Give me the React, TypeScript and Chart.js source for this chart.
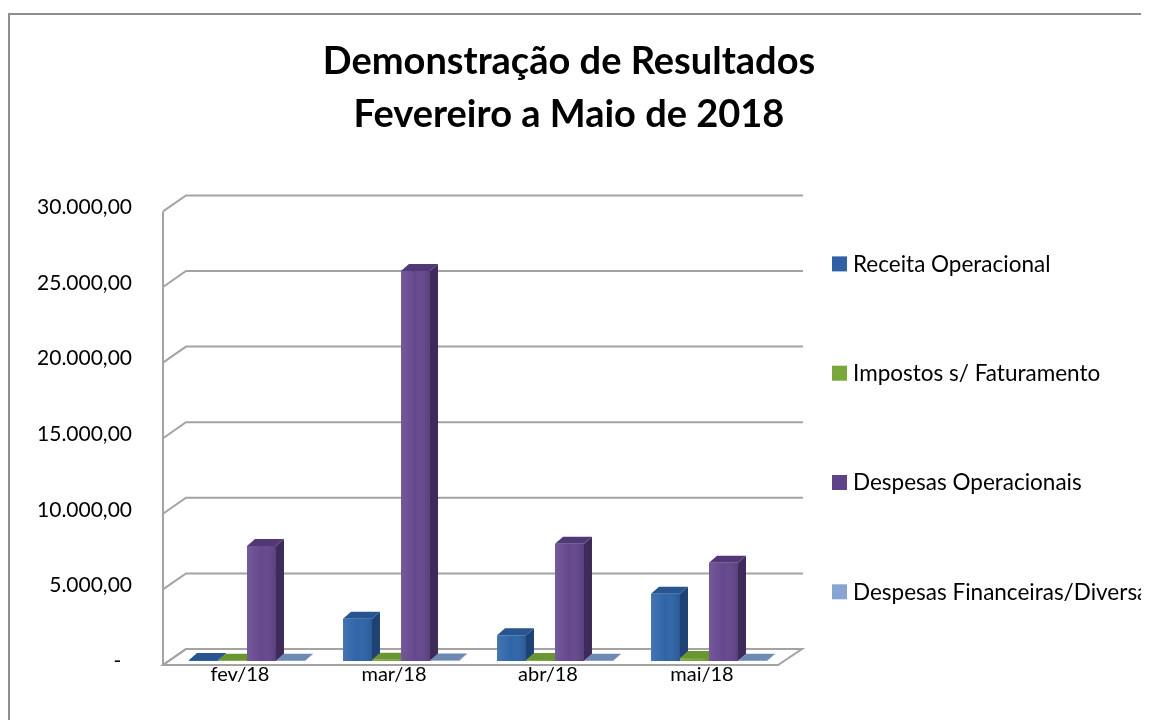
import React, { useEffect, useRef } from 'react';
import { Chart, registerables } from 'chart.js';

Chart.register(...registerables);

const titleLines = ['Demonstração de Resultados', 'Fevereiro a Maio de 2018'];
const categories = ['fev/18', 'mar/18', 'abr/18', 'mai/18'];
const seriesNames = [
  'Receita Operacional',
  'Impostos s/ Faturamento',
  'Despesas Operacionais',
  'Despesas Financeiras/Diversas',
];
const receitaOperacional = [60, 2800, 1700, 4450];
const impostosFaturamento = [20, 80, 70, 200];
const despesasOperacionais = [7600, 25800, 7750, 6500];
const despesasFinanceiras = [20, 25, 20, 20];
const yTickValues = [0, 5000, 10000, 15000, 20000, 25000, 30000];

const frontColors = ['#2f65a9', '#79a53b', '#65478e', '#89a5d3'];
const sideColors = ['#1e4273', '#55752a', '#3e2b59', '#5d7399'];
const topColors = ['#28548f', '#6b9533', '#513877', '#6f89b5'];
const legendColors = ['#2e62a5', '#7aa63b', '#5f4389', '#88a4d2'];

const FONT = 'Lato, "Open Sans", sans-serif';
const DX = 8;
const DY = -7;

function fmtTick(v: number): string {
  if (v === 0) return '-  ';
  const s = Math.round(v).toString().replace(/\B(?=(\d{3})+(?!\d))/g, '.');
  return s + ',00';
}

const threeDPlugin = {
  id: 'threeD',
  beforeDraw(chart: any) {
    const { ctx, width, height } = chart;
    ctx.save();
    ctx.strokeStyle = '#8e8e8e';
    ctx.lineWidth = 2;
    ctx.beginPath();
    ctx.moveTo(1, height + 5);
    ctx.lineTo(1, 6);
    ctx.lineTo(width + 5, 6);
    ctx.stroke();
    ctx.restore();
  },
  beforeDatasetsDraw(chart: any) {
    const { ctx, chartArea, scales } = chart;
    const { left, right, bottom } = chartArea;
    const y = scales.y;
    ctx.save();
    ctx.strokeStyle = '#a3a3a3';
    ctx.lineWidth = 2;
    // floor
    ctx.beginPath();
    ctx.moveTo(left - 7, bottom + 4);
    ctx.lineTo(right - 8, bottom + 4);
    ctx.lineTo(right + 16, bottom - 12);
    ctx.lineTo(left + 16, bottom - 12);
    ctx.closePath();
    ctx.stroke();
    // back wall gridlines and left wall slants
    yTickValues.forEach((v) => {
      const py = y.getPixelForValue(v);
      ctx.beginPath();
      ctx.moveTo(left - 7, py + 4);
      ctx.lineTo(left + 16, py - 12);
      ctx.lineTo(right + 17, py - 12);
      ctx.stroke();
    });
    // front vertical edge of the left wall
    ctx.beginPath();
    ctx.moveTo(left - 7, y.getPixelForValue(yTickValues[yTickValues.length - 1]) + 4);
    ctx.lineTo(left - 7, bottom + 4);
    ctx.stroke();

    // bar side and top faces
    chart.data.datasets.forEach((_ds: any, di: number) => {
      const meta = chart.getDatasetMeta(di);
      meta.data.forEach((el: any) => {
        const w = el.width;
        const l = el.x - w / 2;
        const r = el.x + w / 2;
        const t = Math.min(el.y, el.base);
        const b = Math.max(el.y, el.base);
        ctx.fillStyle = sideColors[di];
        ctx.beginPath();
        ctx.moveTo(r, t);
        ctx.lineTo(r + DX, t + DY);
        ctx.lineTo(r + DX, b + DY);
        ctx.lineTo(r, b);
        ctx.closePath();
        ctx.fill();
        ctx.fillStyle = topColors[di];
        ctx.beginPath();
        ctx.moveTo(l, t);
        ctx.lineTo(l + DX, t + DY);
        ctx.lineTo(r + DX, t + DY);
        ctx.lineTo(r, t);
        ctx.closePath();
        ctx.fill();
      });
    });
    ctx.restore();
  },
  afterDatasetsDraw(chart: any) {
    const { ctx } = chart;
    ctx.save();
    chart.data.datasets.forEach((_ds: any, di: number) => {
      const meta = chart.getDatasetMeta(di);
      meta.data.forEach((el: any) => {
        const w = el.width;
        const l = el.x - w / 2;
        const t = Math.min(el.y, el.base);
        const b = Math.max(el.y, el.base);
        if (b - t < 1) return;
        const g = ctx.createLinearGradient(l, 0, l + w, 0);
        g.addColorStop(0, 'rgba(255,255,255,0.10)');
        g.addColorStop(0.5, 'rgba(255,255,255,0)');
        g.addColorStop(1, 'rgba(0,0,0,0.12)');
        ctx.fillStyle = g;
        ctx.fillRect(l, t, w, b - t);
      });
    });
    ctx.restore();
  },
  afterDraw(chart: any) {
    const { ctx, chartArea } = chart;
    ctx.save();
    ctx.font = `22.5px ${FONT}`;
    ctx.textBaseline = 'middle';
    ctx.textAlign = 'left';
    seriesNames.forEach((name, i) => {
      const cy = chartArea.top + 57 + i * 109.3;
      const bx = chartArea.right + 46;
      ctx.fillStyle = legendColors[i];
      ctx.fillRect(bx, cy - 8, 15, 15);
      ctx.fillStyle = '#000';
      ctx.fillText(name, bx + 21, cy);
    });
    ctx.restore();
  },
};

export default function App() {
  const canvasRef = useRef<HTMLCanvasElement | null>(null);

  useEffect(() => {
    document.body.style.overflow = 'hidden';
    let chart: Chart | null = null;
    let cancelled = false;
    const build = () => {
      if (cancelled || !canvasRef.current) return;
      const seriesData = [receitaOperacional, impostosFaturamento, despesasOperacionais, despesasFinanceiras];
      chart = new Chart(canvasRef.current, {
        type: 'bar',
        data: {
          labels: categories,
          datasets: seriesNames.map((name, i) => ({
            label: name,
            data: seriesData[i],
            backgroundColor: frontColors[i],
            borderWidth: 0,
            categoryPercentage: 0.753,
            barPercentage: 1.0,
          })),
        },
        options: {
          animation: false,
          responsive: true,
          maintainAspectRatio: false,
          layout: { padding: { left: 0, right: 19, top: 0, bottom: 31 } },
          plugins: {
            legend: { display: false },
            tooltip: { enabled: false },
            title: {
              display: true,
              text: titleLines,
              color: '#000',
              font: { family: FONT, size: 38, weight: 'bold', lineHeight: 1.4 },
              padding: { top: 27, bottom: 66 },
            },
          },
          scales: {
            x: {
              grid: { display: false, drawTicks: false },
              border: { display: false },
              ticks: {
                color: '#000',
                font: { family: FONT, size: 20 },
                padding: 2,
                labelOffset: -7,
              },
            },
            y: {
              min: 0,
              max: 30000,
              grid: { display: false, drawTicks: false },
              border: { display: false },
              afterBuildTicks: (s: any) => {
                s.ticks = yTickValues.map((v) => ({ value: v }));
              },
              afterFit: (s: any) => {
                s.width = 162;
              },
              ticks: {
                color: '#000',
                font: { family: FONT, size: 21 },
                padding: 38,
                callback: (v: any) => fmtTick(Number(v)),
              },
            },
            spacer: {
              type: 'linear',
              position: 'right',
              display: true,
              grid: { display: false, drawTicks: false },
              border: { display: false },
              ticks: { display: false },
              afterFit: (s: any) => {
                s.width = 344;
              },
            },
          },
        },
        plugins: [threeDPlugin],
      } as any);
    };
    const fontsApi = (document as any).fonts;
    if (fontsApi && fontsApi.load) {
      Promise.all([
        fontsApi.load(`bold 38px Lato`),
        fontsApi.load(`21px Lato`),
      ]).then(build, build);
    } else {
      build();
    }
    return () => {
      cancelled = true;
      if (chart) chart.destroy();
    };
  }, []);

  return (
    <div style={{ position: 'relative', width: 1141, height: 712 }}>
      <canvas ref={canvasRef} />
    </div>
  );
}
